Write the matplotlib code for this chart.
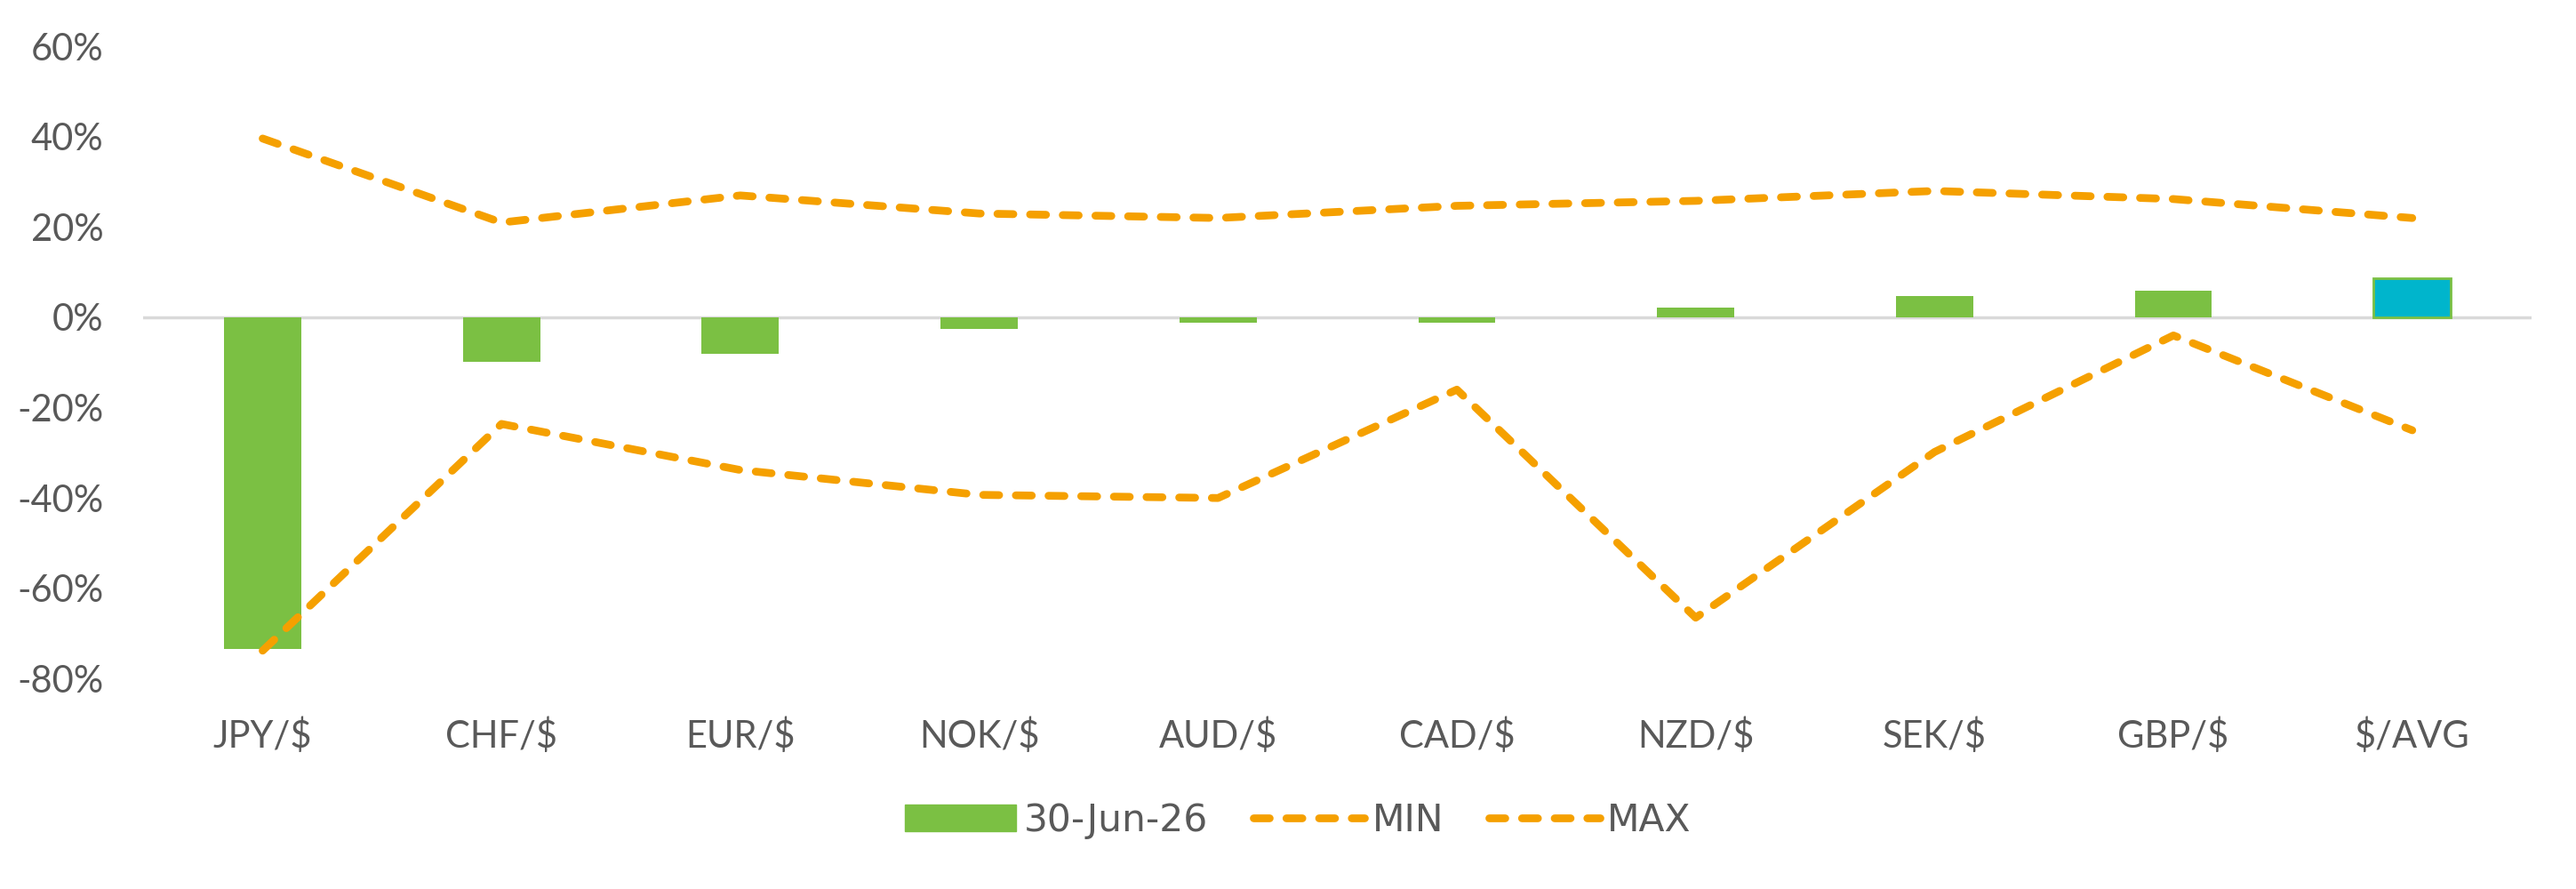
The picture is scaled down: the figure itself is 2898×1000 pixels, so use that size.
import matplotlib
matplotlib.use("Agg")
import matplotlib.pyplot as plt
from matplotlib.patches import Patch
from matplotlib.lines import Line2D

categories = ["JPY/$", "CHF/$", "EUR/$", "NOK/$", "AUD/$", "CAD/$", "NZD/$", "SEK/$", "GBP/$", "$/AVG"]
current = [-73.5, -9.8, -8.0, -2.5, -1.2, -1.2, 2.2, 4.7, 6.0, 8.7]
min_vals = [-73.8, -23.6, -33.8, -39.3, -40.0, -16.0, -66.5, -29.8, -4.0, -25.0]
max_vals = [39.6, 21.0, 27.0, 23.0, 22.0, 24.7, 25.8, 28.0, 26.2, 22.0]
yticks = [-80, -60, -40, -20, 0, 20, 40, 60]
legend_labels = ["30-Jun-26", "MIN", "MAX"]

GREEN = "#7BC043"
CYAN = "#00B5CC"
ORANGE = "#F5A000"
TEXT = "#595959"
LW = 6.3
DASH = (2.05, 2.15)

fig = plt.figure(figsize=(28.98, 10.0), dpi=100)
ax = fig.add_axes([0.0556, 0.2366, 0.9272, 0.7112])

x = list(range(len(categories)))
colors = [GREEN] * (len(categories) - 1) + [CYAN]
bars = ax.bar(x, current, width=0.323, color=colors, zorder=2)
bars[-1].set_edgecolor(GREEN)
bars[-1].set_linewidth(2)

ax.axhline(0, color="#D9D9D9", linewidth=2.5, zorder=1)

line_kw = dict(color=ORANGE, linewidth=LW, dash_capstyle="round", solid_capstyle="round", zorder=3)
ax.plot(x, min_vals, dashes=DASH, **line_kw)
ax.plot(x, max_vals, dashes=DASH, **line_kw)

ax.set_xlim(-0.5, len(categories) - 0.5)
ax.set_ylim(-80, 60)
ax.set_yticks(yticks)
ax.set_yticklabels([f"{v}%" for v in yticks])
ax.set_xticks(x)
ax.set_xticklabels(categories)

for s in ax.spines.values():
    s.set_visible(False)
ax.tick_params(axis="both", length=0, colors=TEXT, labelsize=30)
ax.tick_params(axis="y", pad=32)
ax.tick_params(axis="x", pad=32)
for lab in ax.get_yticklabels() + ax.get_xticklabels():
    lab.set_fontfamily("Lato")
    lab.set_color(TEXT)

handles = [
    Patch(facecolor=GREEN, edgecolor=GREEN),
    Line2D([0], [0], color=ORANGE, linewidth=LW, dashes=DASH, dash_capstyle="round"),
    Line2D([0], [0], color=ORANGE, linewidth=LW, dashes=DASH, dash_capstyle="round"),
]
leg = fig.legend(handles, legend_labels, loc="center", bbox_to_anchor=(0.504, 0.077), ncol=3,
                 frameon=False, handlelength=2.95, handleheight=0.72, handletextpad=0.2,
                 columnspacing=1.2, prop={"family": "Liberation Sans Narrow", "size": 30.5})
for t in leg.get_texts():
    t.set_color(TEXT)

fig.savefig("out.png", dpi=100, facecolor="white")
